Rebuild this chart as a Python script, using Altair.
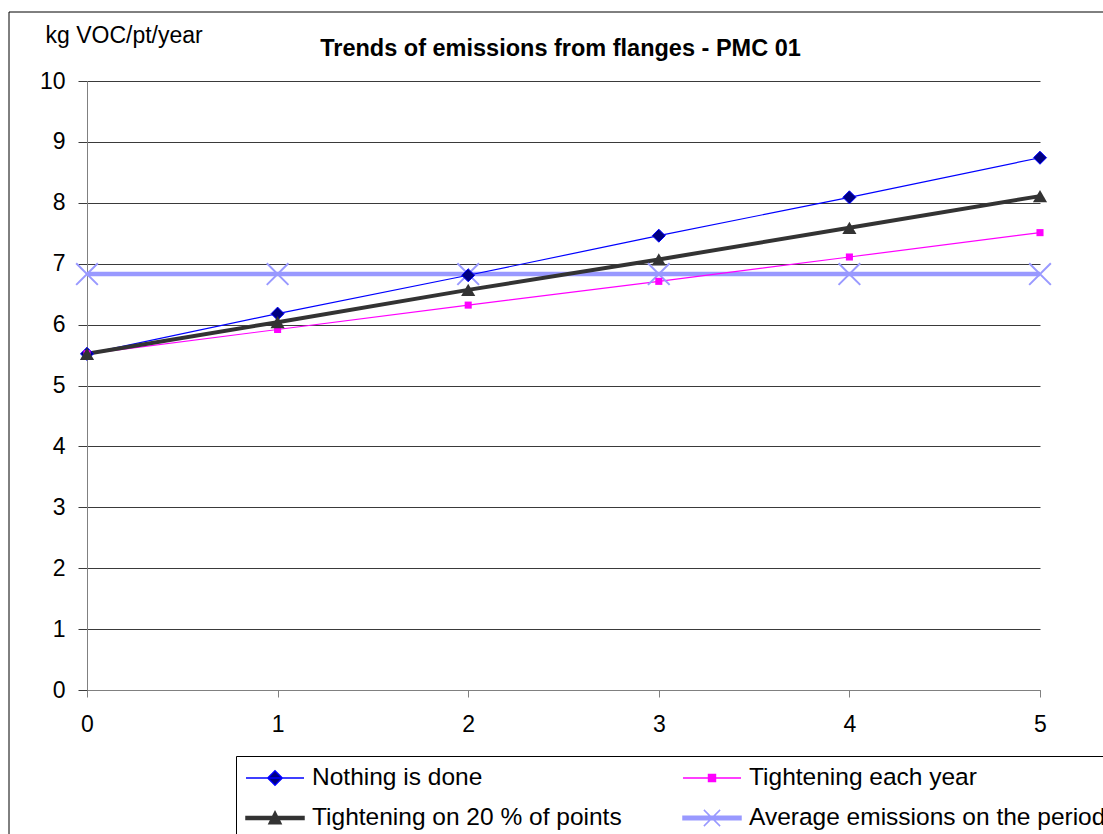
import altair as alt
import pandas as pd

# ---------------- data ----------------
years = [0, 1, 2, 3, 4, 5]
nothing_done = [5.52, 6.18, 6.81, 7.46, 8.09, 8.74]
tightening_each_year = [5.52, 5.92, 6.32, 6.71, 7.11, 7.51]
tightening_20pct = [5.52, 6.04, 6.57, 7.07, 7.59, 8.11]
average_emissions = [6.83, 6.83, 6.83, 6.83, 6.83, 6.83]

series_names = [
    "Nothing is done",
    "Tightening each year",
    "Tightening on 20 % of points",
    "Average emissions on the period",
]
y_ticks = [0, 1, 2, 3, 4, 5, 6, 7, 8, 9, 10]
x_ticks = [0, 1, 2, 3, 4, 5]

rows = []
for name, vals in zip(series_names, [nothing_done, tightening_each_year,
                                     tightening_20pct, average_emissions]):
    for x, v in zip(years, vals):
        rows.append({"year": x, "value": v, "series": name})
df = pd.DataFrame(rows)

FONT = "Liberation Sans"

# ---------------- styles ----------------
line_colors = ["#0000FF", "#FF00FF", "#333333", "#9999FF"]
line_widths = [1.2, 1.2, 4, 4.5]
fill_colors = ["#000080", "#FF00FF", "#333333", "#9999FF"]

X_PATH = "M-1,-1L1,1M-1,1L1,-1"
legend_paths = [
    "M-1,0H1M0,-0.25L0.25,0L0,0.25L-0.25,0Z",
    "M-1,0H1M-0.12,-0.12H0.12V0.12H-0.12Z",
    "M-1,-0.05H1V0.05H-1ZM0,-0.22L0.21,0.2L-0.21,0.2Z",
    "M-1,-0.06H1V0.06H-1ZM-0.28,-0.28L0.28,0.28M-0.28,0.28L0.28,-0.28",
]

x_enc = alt.X(
    "year:Q",
    scale=alt.Scale(domain=[0, 5], nice=False, zero=False),
    axis=alt.Axis(values=x_ticks, format="d", title=None, grid=False,
                  tickSize=7, labelPadding=16, labelFontSize=23, labelFont=FONT,
                  labelColor="black", domainColor="#808080", tickColor="#808080",
                  labelFlush=False),
)
y_enc = alt.Y(
    "value:Q",
    scale=alt.Scale(domain=[0, 10], nice=False),
    axis=alt.Axis(values=y_ticks, format="d", grid=True, gridColor="#3a3a3a",
                  gridWidth=1, tickSize=9, labelPadding=13, labelFontSize=23,
                  labelFont=FONT, labelColor="black", domainColor="#808080",
                  tickColor="#3a3a3a", labelBaseline="middle",
                  title="kg VOC/pt/year", titleAngle=0, titleX=-42, titleY=-46,
                  titleAlign="left", titleBaseline="middle", titleFontSize=23,
                  titleFont=FONT, titleFontWeight="normal", titleColor="black"),
)

base = alt.Chart(df)

frame = alt.Chart(pd.DataFrame({"k": [0]})).mark_rect(
    fillOpacity=0, stroke="black", strokeWidth=1
).encode(
    x=alt.value(-78), x2=alt.value(1030), y=alt.value(-69), y2=alt.value(770)
)


def line_layer(i):
    return base.transform_filter(alt.datum.series == series_names[i]).mark_line(
        color=line_colors[i], strokeWidth=line_widths[i]
    ).encode(x=x_enc, y=y_enc)


def point_layer(i, **kw):
    return base.transform_filter(alt.datum.series == series_names[i]).mark_point(
        opacity=1, **kw
    ).encode(x="year:Q", y="value:Q")


avg_line = line_layer(3)
avg_pts = point_layer(3, shape=X_PATH, filled=False, stroke="#9999FF",
                      strokeWidth=2, size=470)
nd_line = line_layer(0)
nd_pts = point_layer(0, shape="diamond", filled=True, fill="#000080",
                     stroke="#0000FF", strokeWidth=1, size=170)
te_line = line_layer(1)
te_pts = point_layer(1, shape="square", filled=True, fill="#FF00FF",
                     size=50)
t20_line = line_layer(2)
t20_pts = point_layer(2, shape="triangle-up", filled=True, fill="#333333",
                      size=200)

legend = alt.Legend(
    title=None, orient="none", legendX=149, legendY=675, columns=2,
    direction="horizontal", clipHeight=26,
    columnPadding=60, rowPadding=14, symbolSize=3364, labelOffset=7,
    labelFontSize=24.5, labelFont=FONT, labelColor="black", labelLimit=1000,
    strokeColor="black", padding=9, symbolStrokeWidth=1.5, symbolOpacity=1,
    fillColor="white",
)

legend_layer = base.transform_filter("datum.year < 0").mark_point(
    opacity=1, filled=True, strokeWidth=1.5
).encode(
    x="year:Q", y="value:Q",
    fill=alt.Fill("series:N", scale=alt.Scale(domain=series_names, range=fill_colors), legend=legend),
    stroke=alt.Stroke("series:N", scale=alt.Scale(domain=series_names, range=line_colors), legend=legend),
    shape=alt.Shape("series:N", scale=alt.Scale(domain=series_names, range=legend_paths), legend=legend),
)

chart = alt.layer(
    frame, avg_line, nd_line, te_line, t20_line,
    avg_pts, nd_pts, te_pts, t20_pts, legend_layer
).properties(
    width=953, height=609,
    padding={"left": 87, "top": 81, "right": 63, "bottom": 144},
    autosize=alt.AutoSizeParams(type="none"),
    title=alt.Title("Trends of emissions from flanges - PMC 01", fontSize=23.5,
                    font=FONT, fontWeight="bold", anchor="middle", color="black",
                    offset=0, dx=-3, dy=49),
    background="white",
).configure_view(stroke=None)

chart.save("out.html", embed_options={"renderer": "svg", "actions": False})
